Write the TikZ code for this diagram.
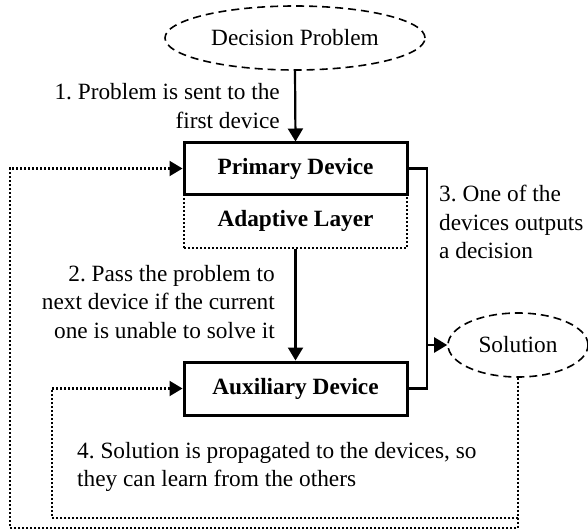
\documentclass[tikz,border=0pt]{standalone}
\usepackage{fontspec}
\setmainfont{Liberation Serif}
\usetikzlibrary{shapes.geometric,arrows.meta}
\frenchspacing
\begin{document}
\begin{tikzpicture}[x=1pt,y=1pt,
  font=\fontsize{23.3}{28.5}\selectfont,
  dev/.style={draw,line width=3pt,minimum width=223pt,inner sep=0pt,font=\fontsize{23.3}{28.5}\selectfont\bfseries},
  layer/.style={draw,line width=2.2pt,dash pattern=on 2pt off 2pt,minimum width=223pt,inner sep=0pt,font=\fontsize{23.3}{28.5}\selectfont\bfseries},
  oval/.style={ellipse,draw,line width=1.6pt,dash pattern=on 8pt off 5pt,inner sep=0pt},
  conn/.style={line width=2.2pt},
  arr/.style={line width=2.2pt,-{Triangle[length=13pt,width=15pt]}},
  dotarr/.style={line width=2.2pt,dash pattern=on 2pt off 2pt,-{Triangle[length=13pt,width=15pt]}},
  lbl/.style={inner sep=0pt}
]
\useasboundingbox (0,0) rectangle (588,531);
\node[oval,minimum width=260pt,minimum height=64pt] (dp) at (295,493) {Decision Problem};
\node[layer,minimum height=54pt] (al) at (295.5,310) {Adaptive Layer};
\node[dev,minimum height=51pt,fill=white] (pd) at (295.5,362.5) {Primary Device};
\node[dev,minimum height=53pt] (ax) at (295.5,142.5) {Auxiliary Device};
\node[oval,minimum width=140pt,minimum height=64pt] (sol) at (518,186) {Solution};
\coordinate (c3) at (427,186);
\coordinate (il) at (52,13);
\coordinate (ol) at (10,3);

\draw[arr] (dp.south) -- (pd.north);
\draw[arr] (al.south) -- (ax.north);
\draw[conn] (pd.east) -- (pd.east -| c3) -- (ax.east -| c3) -- (ax.east);
\draw[arr] (c3) -- (sol.west);
\draw[dotarr] (sol.south) |- (il) |- (ax.west);
\draw[dotarr] (sol.south) |- (ol) |- (pd.west);

\node[lbl,anchor=east,align=right] (t1) at (280,425) {1. Problem is sent to the\\first device};
\node[lbl,anchor=east,align=right] (t2) at (275,229) {2. Pass the problem to\\next device if the current\\one is unable to solve it};
\node[lbl,anchor=west,align=left] (t3) at (439,309) {3. One of the\\devices outputs\\a decision};
\node[lbl,anchor=west,align=left] (t4) at (77,64) {4. Solution is propagated to the devices, so\\they can learn from the others};
\end{tikzpicture}
\end{document}
